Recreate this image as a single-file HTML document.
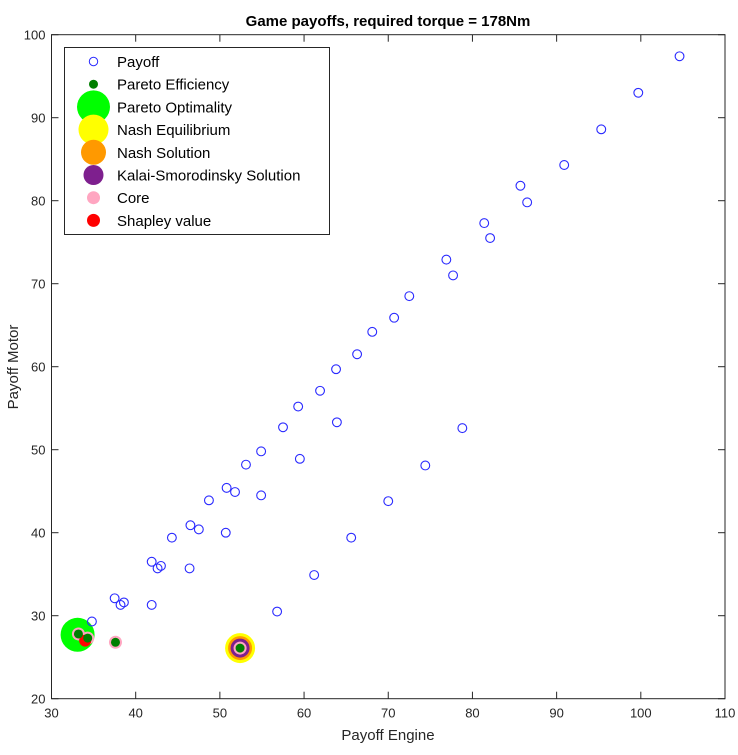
<!DOCTYPE html>
<html><head><meta charset="utf-8"><style>
body{margin:0;background:#fff}
text{font-family:"Liberation Sans",sans-serif}
</style></head><body>
<svg id="chart" width="738" height="750">
<rect width="738" height="750" fill="#fff"/>
<g id="plot"></g>
</svg>
<script>
const payoffX=[104.6,99.7,95.3,90.9,85.7,86.5,81.4,82.1,76.9,77.7,72.5,70.7,68.1,66.3,63.8,61.9,59.3,57.5,54.9,53.1,63.9,59.5,78.8,74.4,70.0,65.6,61.2,56.8,50.8,51.8,48.7,54.9,50.7,46.5,47.5,44.3,41.9,42.6,43.0,46.4,37.5,38.2,38.6,41.9,34.8];
const payoffY=[97.4,93.0,88.6,84.3,81.8,79.8,77.3,75.5,72.9,71.0,68.5,65.9,64.2,61.5,59.7,57.1,55.2,52.7,49.8,48.2,53.3,48.9,52.6,48.1,43.8,39.4,34.9,30.5,45.4,44.9,43.9,44.5,40.0,40.9,40.4,39.4,36.5,35.7,36.0,35.7,32.1,31.3,31.6,31.3,29.3];
const paretoX=[33.2,34.3,37.6,52.4];
const paretoY=[27.8,27.3,26.8,26.1];
const optX=[33.1], optY=[27.7];
const nashEqX=[52.4], nashEqY=[26.1];
const nashSolX=[52.4], nashSolY=[26.1];
const ksX=[52.4], ksY=[26.1];
const coreX=[33.2,34.3,37.6,52.4], coreY=[27.8,27.3,26.8,26.1];
const shapX=[34.0], shapY=[27.0];
const xTicks=[30,40,50,60,70,80,90,100,110];
const yTicks=[20,30,40,50,60,70,80,90,100];

const L=51.5,R=725,T=34.7,B=698.7;
const sx=v=>L+(v-30)/80*(R-L);
const sy=v=>B-(v-20)/80*(B-T);
const NS="http://www.w3.org/2000/svg";
const g=document.getElementById('plot');
function el(tag,attrs,parent){const e=document.createElementNS(NS,tag);for(const k in attrs)e.setAttribute(k,attrs[k]);(parent||g).appendChild(e);return e;}

const box=el('rect',{x:L,y:T,width:R-L,height:B-T,fill:'none',stroke:'#262626','stroke-width':1});


xTicks.forEach(v=>{
  el('line',{x1:sx(v),x2:sx(v),y1:B,y2:B-7,stroke:'#262626'});
  el('line',{x1:sx(v),x2:sx(v),y1:T,y2:T+7,stroke:'#262626'});
  const t=el('text',{x:sx(v),y:B+19,'text-anchor':'middle','font-size':13,fill:'#262626'});
  t.textContent=v;
  
  
});
yTicks.forEach(v=>{
  el('line',{x1:L,x2:L+7,y1:sy(v),y2:sy(v),stroke:'#262626'});
  el('line',{x1:R,x2:R-7,y1:sy(v),y2:sy(v),stroke:'#262626'});
  const t=el('text',{x:L-6,y:sy(v)+5,'text-anchor':'end','font-size':13,fill:'#262626'});
  t.textContent=v;
  
  
});
function dots(xs,ys,r,attrs,name){xs.forEach((x,i)=>{const c=el('circle',Object.assign({cx:sx(x),cy:sy(ys[i]),r:r},attrs));
  
  });}
dots(optX,optY,17,{fill:'#00ff00'},'pareto-optimality-point');
dots(nashEqX,nashEqY,15,{fill:'#ffff00'},'nash-equilibrium-point');
dots(nashSolX,nashSolY,12,{fill:'#ff9900'},'nash-solution-point');
dots(ksX,ksY,9.5,{fill:'#7e1f8e'},'kalai-smorodinsky-point');
dots(coreX,coreY,6.5,{fill:'#ffa6c1'},'core-point');
dots(shapX,shapY,6,{fill:'#ff0000'},'shapley-point');
dots(paretoX,paretoY,4.5,{fill:'#007f00'},'pareto-efficiency-point');
dots(payoffX,payoffY,4.4,{fill:'none',stroke:'#2a2aff','stroke-width':1.1},'payoff-point');

const lg=el('g',{});


el('rect',{x:64.5,y:47.5,width:265,height:187,fill:'#fff',stroke:'#262626'},lg);
const items=[['Payoff',{r:4.2,fill:'none',stroke:'#2a2aff'}],['Pareto Efficiency',{r:4.5,fill:'#007f00'}],['Pareto Optimality',{r:16.5,fill:'#00ff00'}],['Nash Equilibrium',{r:15,fill:'#ffff00'}],['Nash Solution',{r:12.5,fill:'#ff9900'}],['Kalai-Smorodinsky Solution',{r:10,fill:'#7e1f8e'}],['Core',{r:6.5,fill:'#ffa6c1'}],['Shapley value',{r:6.5,fill:'#ff0000'}]];
items.forEach((it,i)=>{const y=61.5+i*22.7;
  const e=el('g',{},lg);
  
  
  el('circle',Object.assign({cx:93.5,cy:y},it[1]),e);
  const t=el('text',{x:117,y:y+5.5,'font-size':15,fill:'#000'},e);t.textContent=it[0];});

const title=el('text',{x:388,y:26,'text-anchor':'middle','font-size':15,'font-weight':'bold',fill:'#000'});
title.textContent='Game payoffs, required torque = 178Nm';


const xt=el('text',{x:388,y:740,'text-anchor':'middle','font-size':15,fill:'#262626'});
xt.textContent='Payoff Engine';


const yt=el('text',{x:0,y:0,'text-anchor':'middle','font-size':15,fill:'#262626',transform:'translate(18,367) rotate(-90)'});
yt.textContent='Payoff Motor';


</script>
</body></html>
